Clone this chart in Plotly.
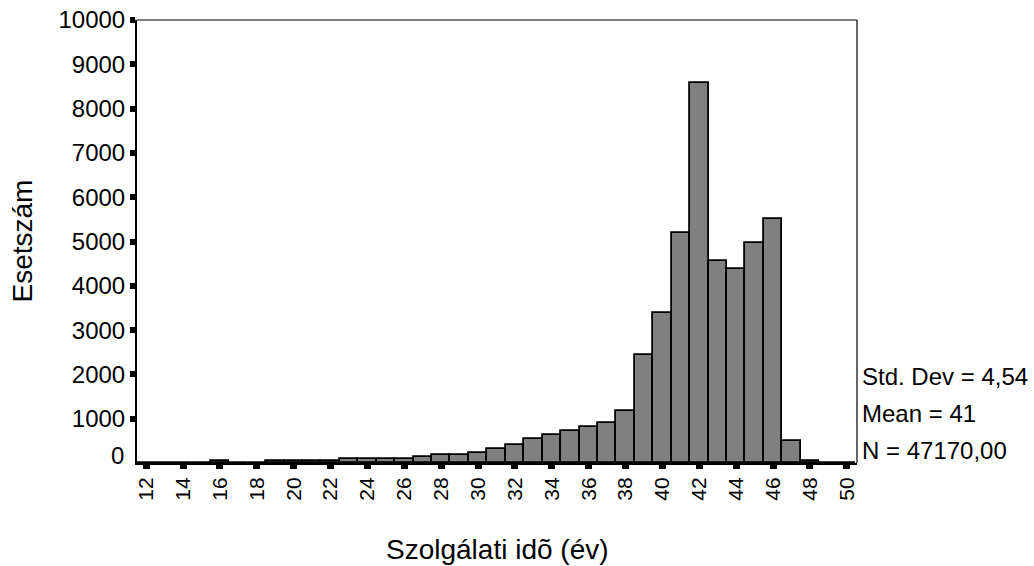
import plotly.graph_objects as go

years = list(range(12, 51))
counts = [5, 5, 5, 5, 40, 5, 5, 40, 40, 40, 40, 85, 85, 85, 85, 135, 185, 185, 235,
          310, 415, 545, 640, 715, 805, 905, 1175, 2445, 3380, 5200, 8580, 4560,
          4380, 4970, 5510, 490, 40, 5, 5]
x_ticks = list(range(12, 51, 2))
y_ticks = list(range(1000, 10001, 1000))
stats = ["Std. Dev = 4,54", "Mean = 41", "N = 47170,00"]

FONT = "Liberation Sans, Arial, sans-serif"

fig = go.Figure(go.Bar(
    x=years, y=counts, width=1.0,
    marker=dict(color="#808080", line=dict(color="black", width=1.8)),
))

W, H = 1034, 566
L, T = 137, 20
R = W - 857
B = H - 463
fig.update_layout(
    width=W, height=H,
    margin=dict(l=L, r=R, t=T, b=B, autoexpand=False),
    paper_bgcolor="white", plot_bgcolor="white",
    showlegend=False, bargap=0,
    font=dict(family=FONT, color="black", size=22),
    xaxis=dict(range=[11.5, 50.55], tickvals=x_ticks, ticktext=[str(v) for v in x_ticks],
               tickangle=-90, ticks="outside", ticklen=4, tickwidth=7, tickcolor="black",
               showline=True, linecolor="black", linewidth=2, showgrid=False, zeroline=False,
               tickfont=dict(size=21, family=FONT)),
    yaxis=dict(range=[0, 10000], tickvals=y_ticks, ticktext=[str(v) for v in y_ticks],
               ticks="outside", ticklen=5, tickwidth=6, tickcolor="black",
               ticklabeloverflow="allow",
               showline=True, linecolor="black", linewidth=2, showgrid=False, zeroline=False,
               tickfont=dict(size=24, family=FONT)),
)

# top/right frame
fig.add_shape(type="line", xref="paper", yref="paper", x0=0, x1=1, y0=1, y1=1,
              line=dict(color="black", width=1.2))
fig.add_shape(type="line", xref="paper", yref="paper", x0=1, x1=1, y0=0, y1=1,
              line=dict(color="black", width=1.2))

# zero label (offset above axis as in reference)
fig.add_annotation(text="0", xref="paper", yref="paper", x=0, y=0, xanchor="right",
                   yanchor="middle", xshift=-11, yshift=8, showarrow=False,
                   font=dict(size=24, family=FONT))

fig.add_annotation(text="Esetszám", xref="paper", yref="paper", x=0, y=0.5,
                   xanchor="center", yanchor="middle", xshift=-115, textangle=-90,
                   showarrow=False, font=dict(size=28, family=FONT))
fig.add_annotation(text="Szolgálati idõ (év)", xref="paper", yref="paper", x=0.5, y=0,
                   xanchor="center", yanchor="middle", yshift=-86,
                   showarrow=False, font=dict(size=28, family=FONT))

ys = [463 - 376, 463 - 413, 463 - 450]
for txt, dy in zip(stats, ys):
    fig.add_annotation(text=txt, xref="paper", yref="paper", x=1, y=0, xanchor="left",
                       yanchor="middle", xshift=3, yshift=dy, showarrow=False,
                       font=dict(size=24, family=FONT))

fig.write_html("out.html", config={"displayModeBar": False},
               post_script="document.body.style.margin='0px';")
